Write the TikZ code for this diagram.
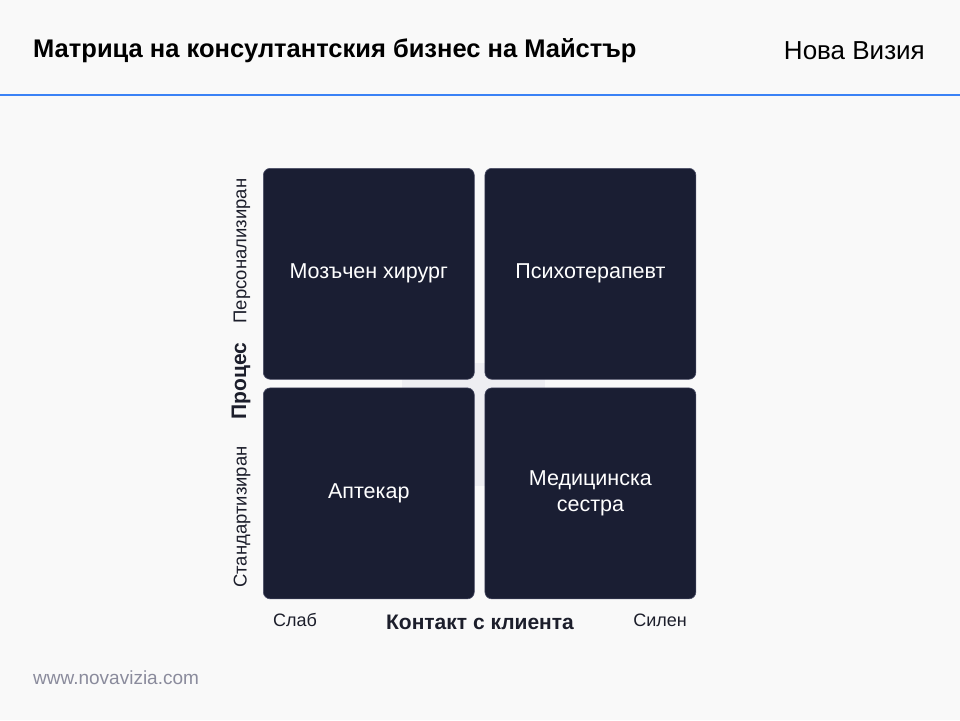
\documentclass[tikz,border=0pt]{standalone}
\usepackage{fontspec}
\setmainfont{Liberation Sans}
\usetikzlibrary{positioning}
\definecolor{pagebg}{HTML}{F9F9F9}
\definecolor{navy}{HTML}{1A1E33}
\definecolor{navyedge}{HTML}{4A4D66}
\definecolor{accent}{HTML}{3B82F6}
\definecolor{ink}{HTML}{1C1E2B}
\definecolor{urlgray}{HTML}{8A8B9C}
\definecolor{haze}{HTML}{EEEEF2}
\tikzset{
    quad/.style={draw=navyedge, line width=0.6pt, fill=navy, rounded corners=7pt,
      minimum width=211pt, minimum height=211pt, inner sep=0pt,
      text=white, align=center, font=\fontsize{21.5}{26}\selectfont},
    sidelabel/.style={text=ink, rotate=90, font=\fontsize{18.5}{22}\selectfont, inner sep=0pt},
    axislabel/.style={text=ink, font=\fontsize{18}{22}\selectfont, inner sep=0pt},
    axistitle/.style={text=ink, font=\bfseries\fontsize{21}{24}\selectfont, inner sep=0pt},
}

\begin{document}
\begin{tikzpicture}[x=1pt, y=-1pt]
    \fill[pagebg] (0,0) rectangle (960,720);
    \useasboundingbox (0,0) rectangle (960,720);

    % header
    \node[anchor=west, inner sep=0pt, text=black, font=\bfseries\fontsize{25.5}{30}\selectfont] (title) at (33,51) {Матрица на консултантския бизнес на Майстър};
    \node[anchor=east, inner sep=0pt, text=black, font=\fontsize{26}{30}\selectfont] (brand) at (925,51) {Нова Визия};
    \draw[accent, line width=2pt] (0,95) -- (960,95);

    % faint square behind the centre
    \fill[haze] (402,363) rectangle (545,486);

    % quadrants
    \node[quad, anchor=north west] (tl) at (263,168) {Мозъчен хирург};
    \node[quad, right=10pt of tl] (tr) {Психотерапевт};
    \node[quad, below=8pt of tl] (bl) {Аптекар};
    \node[quad, below=8pt of tr] (br) {Медицинска\\сестра};

    % axes
    \node[sidelabel] (personal) at (242,251) {Персонализиран};
    \node[axistitle, rotate=90] (process) at (241,381) {Процес};
    \node[sidelabel] (standard) at (242,517) {Стандартизиран};
    \node[axislabel] (weak) at (295,620) {Слаб};
    \node[axistitle] (contact) at (480,622) {Контакт с клиента};
    \node[axislabel] (strong) at (660,620) {Силен};

    % footer
    \node[anchor=west, inner sep=0pt, text=urlgray, font=\fontsize{19}{22}\selectfont] (url) at (33,678) {www.novavizia.com};
\end{tikzpicture}
\end{document}
